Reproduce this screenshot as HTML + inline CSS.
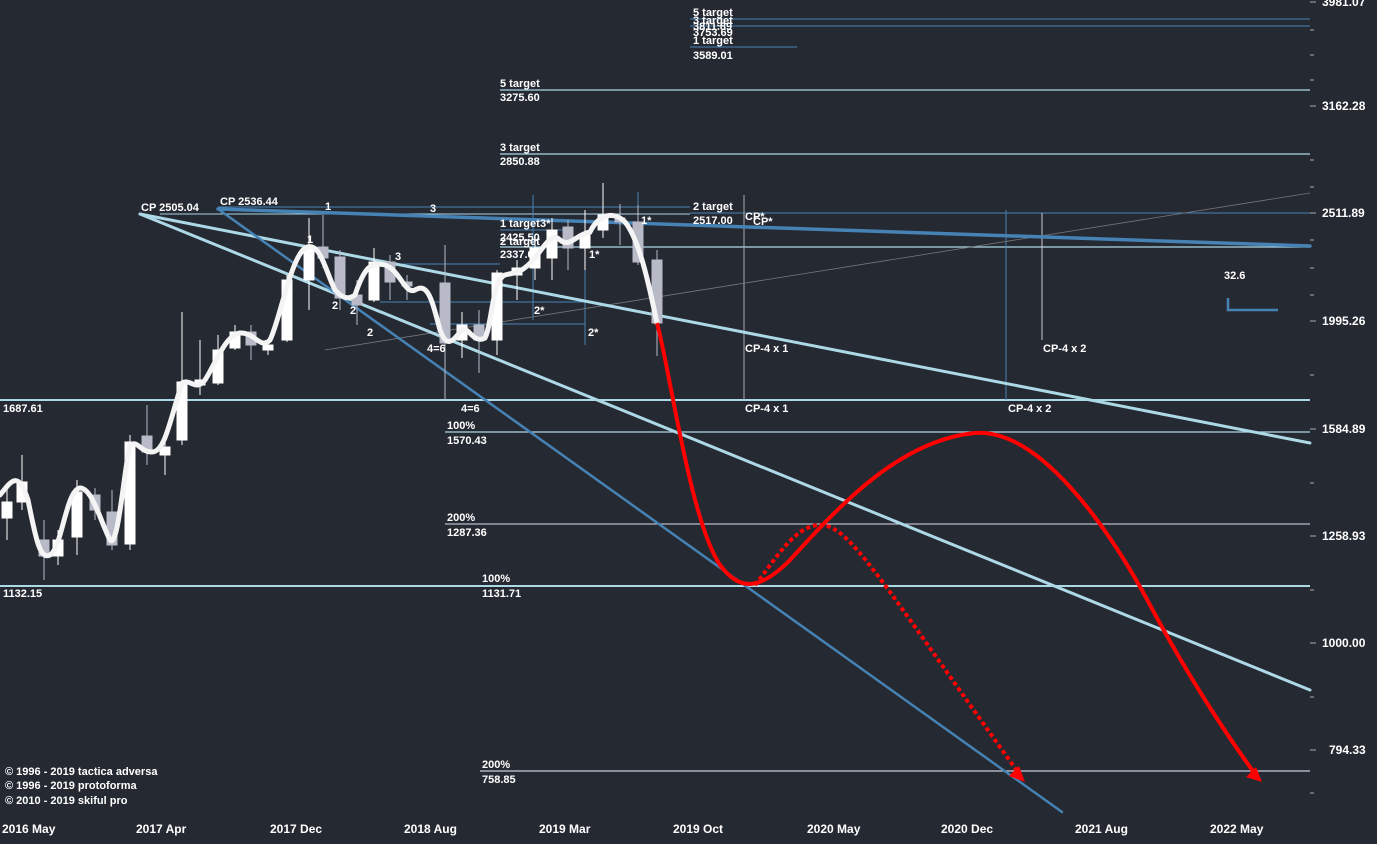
<!DOCTYPE html>
<html><head><style>
body{margin:0;background:#252932;}
svg{display:block;font-family:"Liberation Sans",sans-serif;font-size:11px;fill:#fff;}
text{fill:#fff;}
</style></head><body>
<svg width="1377" height="844" viewBox="0 0 1377 844">
<rect width="1377" height="844" fill="#252932"/>
<g stroke="#add8e6" stroke-width="1.3">
<line x1="0" y1="400" x2="1310" y2="400" stroke-width="2"/>
<line x1="0" y1="586" x2="1310" y2="586" stroke-width="2"/>
<line x1="445" y1="432" x2="1310" y2="432"/>
<line x1="480" y1="771" x2="1310" y2="771" stroke="#ccd"/>
<line x1="500" y1="90" x2="1310" y2="90"/>
<line x1="500" y1="154" x2="1310" y2="154"/>
<line x1="500" y1="247" x2="1310" y2="247"/>
</g>
<line x1="445" y1="524" x2="1310" y2="524" stroke="#dde" stroke-width="1"/>
<g stroke="#4682b4" stroke-width="1">
<line x1="690" y1="19" x2="1310" y2="19"/>
<line x1="690" y1="26" x2="1310" y2="26"/>
<line x1="690" y1="47" x2="797" y2="47"/>
<line x1="690" y1="213" x2="1310" y2="213"/>
<line x1="218" y1="207" x2="690" y2="207"/>
<line x1="500" y1="230" x2="570" y2="230"/>
<line x1="370" y1="264" x2="500" y2="264"/>
<line x1="380" y1="302" x2="590" y2="302"/>
<line x1="430" y1="324" x2="585" y2="324"/>
<line x1="160" y1="214" x2="690" y2="214" stroke="#add8e6"/>
<line x1="533" y1="195" x2="533" y2="320"/>
<line x1="638" y1="192" x2="638" y2="260"/>
<line x1="585" y1="240" x2="585" y2="345"/>
<line x1="1006" y1="210" x2="1006" y2="400"/>
</g>
<line x1="744" y1="195" x2="744" y2="400" stroke="#aaa"/>
<line x1="1042" y1="213" x2="1042" y2="340" stroke="#ccc"/>
<line x1="325" y1="350" x2="1310" y2="193" stroke="#777" stroke-width="0.8"/>
<g stroke-linecap="round">
<line x1="140" y1="214" x2="1310" y2="443" stroke="#add8e6" stroke-width="3"/>
<line x1="140" y1="214" x2="1310" y2="690" stroke="#add8e6" stroke-width="3"/>
<line x1="218" y1="209" x2="1310" y2="246" stroke="#4682b4" stroke-width="3.5"/>
<line x1="218" y1="209" x2="1062" y2="812" stroke="#4682b4" stroke-width="2.5"/>
</g>
<g stroke-width="1">
<g fill="#fff" stroke="#fff">
<line x1="7" y1="485" x2="7" y2="540"/><rect x="2" y="502" width="10" height="16"/>
<line x1="22" y1="455" x2="22" y2="510"/><rect x="17" y="482" width="10" height="20"/>
<line x1="58" y1="530" x2="58" y2="565"/><rect x="53" y="540" width="10" height="16"/>
<line x1="77" y1="480" x2="77" y2="555"/><rect x="72" y="492" width="10" height="45"/>
<line x1="130" y1="435" x2="130" y2="550"/><rect x="125" y="442" width="10" height="102"/>
<line x1="165" y1="440" x2="165" y2="475"/><rect x="160" y="447" width="10" height="8"/>
<line x1="182" y1="312" x2="182" y2="445"/><rect x="177" y="382" width="10" height="58"/>
<line x1="200" y1="340" x2="200" y2="395"/><rect x="195" y="380" width="10" height="5"/>
<line x1="218" y1="335" x2="218" y2="385"/><rect x="213" y="350" width="10" height="33"/>
<line x1="235" y1="325" x2="235" y2="350"/><rect x="230" y="332" width="10" height="16"/>
<line x1="268" y1="340" x2="268" y2="355"/><rect x="263" y="345" width="10" height="5"/>
<line x1="287" y1="275" x2="287" y2="342"/><rect x="282" y="280" width="10" height="60"/>
<line x1="309" y1="218" x2="309" y2="310"/><rect x="304" y="247" width="10" height="33"/>
<line x1="374" y1="248" x2="374" y2="302"/><rect x="369" y="262" width="10" height="38"/>
<line x1="462" y1="312" x2="462" y2="358"/><rect x="457" y="325" width="10" height="15"/>
<line x1="497" y1="270" x2="497" y2="355"/><rect x="492" y="273" width="10" height="67"/>
<line x1="517" y1="260" x2="517" y2="300"/><rect x="512" y="268" width="10" height="7"/>
<line x1="535" y1="240" x2="535" y2="280"/><rect x="530" y="248" width="10" height="20"/>
<line x1="552" y1="218" x2="552" y2="280"/><rect x="547" y="230" width="10" height="28"/>
<line x1="585" y1="210" x2="585" y2="270"/><rect x="580" y="235" width="10" height="13"/>
<line x1="603" y1="183" x2="603" y2="238"/><rect x="598" y="215" width="10" height="15"/>
</g>
<g fill="#b8bac8" stroke="#b8bac8">
<line x1="44" y1="520" x2="44" y2="580"/><rect x="39" y="540" width="10" height="16"/>
<line x1="95" y1="488" x2="95" y2="520"/><rect x="90" y="495" width="10" height="15"/>
<line x1="112" y1="490" x2="112" y2="550"/><rect x="107" y="512" width="10" height="33"/>
<line x1="147" y1="405" x2="147" y2="465"/><rect x="142" y="436" width="10" height="16"/>
<line x1="251" y1="325" x2="251" y2="360"/><rect x="246" y="332" width="10" height="13"/>
<line x1="323" y1="215" x2="323" y2="268"/><rect x="318" y="247" width="10" height="11"/>
<line x1="340" y1="250" x2="340" y2="310"/><rect x="335" y="257" width="10" height="41"/>
<line x1="357" y1="280" x2="357" y2="325"/><rect x="352" y="295" width="10" height="10"/>
<line x1="390" y1="255" x2="390" y2="300"/><rect x="385" y="262" width="10" height="20"/>
<line x1="407" y1="275" x2="407" y2="300"/><rect x="402" y="282" width="10" height="4"/>
<line x1="445" y1="245" x2="445" y2="400"/><rect x="440" y="283" width="10" height="60"/>
<line x1="479" y1="310" x2="479" y2="373"/><rect x="474" y="325" width="10" height="15"/>
<line x1="568" y1="220" x2="568" y2="270"/><rect x="563" y="227" width="10" height="21"/>
<line x1="620" y1="204" x2="620" y2="245"/><rect x="615" y="218" width="10" height="4"/>
<line x1="638" y1="205" x2="638" y2="265"/><rect x="633" y="222" width="10" height="40"/>
<line x1="657" y1="250" x2="657" y2="356"/><rect x="652" y="260" width="10" height="63"/>
</g>
</g>
<path d="M0,495 C12,480 18,470 28,500 C36,540 40,560 50,555 C62,548 66,490 80,488 C92,488 100,520 110,540 C118,550 124,470 130,445 C138,440 140,452 152,452 C165,452 170,420 182,383 C190,378 196,392 205,380 C215,365 225,335 240,333 C255,332 260,350 270,340 C280,320 290,260 305,248 C320,240 325,270 335,290 C342,298 348,300 355,295 C365,265 372,262 385,265 C400,270 405,295 415,290 C428,282 432,300 440,330 C446,345 450,345 460,332 C468,322 472,345 485,338 C492,325 492,280 505,275 C515,272 520,275 535,258 C545,245 552,232 560,240 C570,248 575,235 590,232 C600,212 615,212 625,222 C640,240 650,290 657,323" fill="none" stroke="#f4f4f4" stroke-width="5" stroke-linecap="round"/>
<path d="M657,323 C670,370 690,520 720,565 C740,592 760,590 790,560 C840,505 900,440 975,433 C1040,428 1110,530 1150,605 C1190,680 1230,740 1258,778" fill="none" stroke="#f00" stroke-width="4"/>
<path d="M1262,782 l-16,-5 l10,-10 z" fill="#f00"/>
<path d="M755,585 C775,560 795,525 820,525 C850,525 880,580 1020,775" fill="none" stroke="#f00" stroke-width="4" stroke-dasharray="4,3"/>
<path d="M1025,782 l-16,-6 l10,-10 z" fill="#f00"/>
<path d="M1228,298 v12 h50" fill="none" stroke="#4682b4" stroke-width="2.5"/>
<g font-size="11" font-weight="bold">
<text x="1224" y="279">32.6</text>
<text x="141" y="211">CP 2505.04</text>
<text x="220" y="205">CP 2536.44</text>
<text x="325" y="210">1</text><text x="430" y="212">3</text>
<text x="307" y="243">1</text><text x="395" y="260">3</text>
<text x="332" y="309">2</text><text x="350" y="314">2</text><text x="367" y="336">2</text>
<text x="427" y="352">4=6</text><text x="461" y="412">4=6</text>
<text x="534" y="314">2*</text><text x="588" y="336">2*</text><text x="589" y="258">1*</text>
<text x="641" y="224">1*</text><text x="540" y="227">3*</text>
<text x="500" y="227">1 target</text><text x="500" y="241">2425.50</text>
<text x="500" y="245">2 target</text><text x="500" y="258">2337.0</text>
<text x="500" y="87">5 target</text><text x="500" y="101">3275.60</text>
<text x="500" y="151">3 target</text><text x="500" y="165">2850.88</text>
<text x="693" y="210">2 target</text><text x="693" y="224">2517.00</text>
<text x="745" y="220">CP*</text><text x="753" y="225">CP*</text>
<text x="693" y="16">5 target</text><text x="693" y="24">3 target</text>
<text x="693" y="30">3811.89</text><text x="693" y="36">3753.69</text>
<text x="693" y="44">1 target</text><text x="693" y="59">3589.01</text>
<text x="745" y="352">CP-4 x 1</text><text x="745" y="412">CP-4 x 1</text>
<text x="1043" y="352">CP-4 x 2</text><text x="1008" y="412">CP-4 x 2</text>
<text x="3" y="412">1687.61</text><text x="3" y="597">1132.15</text>
<text x="447" y="429">100%</text><text x="447" y="444">1570.43</text>
<text x="447" y="521">200%</text><text x="447" y="536">1287.36</text>
<text x="482" y="582">100%</text><text x="482" y="597">1131.71</text>
<text x="482" y="768">200%</text><text x="482" y="783">758.85</text>
<text x="5" y="775">© 1996 - 2019 tactica adversa</text>
<text x="5" y="789">© 1996 - 2019 protoforma</text>
<text x="5" y="804">© 2010 - 2019 skiful pro</text>
</g>
<g stroke="#aaa">
<line x1="1310" y1="2" x2="1316" y2="2"/><line x1="1310" y1="106" x2="1316" y2="106"/><line x1="1310" y1="213" x2="1316" y2="213"/><line x1="1310" y1="321" x2="1316" y2="321"/><line x1="1310" y1="429" x2="1316" y2="429"/><line x1="1310" y1="536" x2="1316" y2="536"/><line x1="1310" y1="643" x2="1316" y2="643"/><line x1="1310" y1="750" x2="1316" y2="750"/>
<line x1="1310" y1="30" x2="1314" y2="30"/><line x1="1310" y1="55" x2="1314" y2="55"/><line x1="1310" y1="80" x2="1314" y2="80"/><line x1="1310" y1="160" x2="1314" y2="160"/><line x1="1310" y1="187" x2="1314" y2="187"/><line x1="1310" y1="240" x2="1314" y2="240"/><line x1="1310" y1="268" x2="1314" y2="268"/><line x1="1310" y1="295" x2="1314" y2="295"/><line x1="1310" y1="375" x2="1314" y2="375"/><line x1="1310" y1="483" x2="1314" y2="483"/><line x1="1310" y1="590" x2="1314" y2="590"/><line x1="1310" y1="697" x2="1314" y2="697"/><line x1="1310" y1="793" x2="1314" y2="793"/>
</g>
<g font-size="12" font-weight="bold">
<text x="1322" y="6">3981.07</text><text x="1322" y="110">3162.28</text><text x="1322" y="217">2511.89</text><text x="1322" y="325">1995.26</text><text x="1322" y="433">1584.89</text><text x="1322" y="540">1258.93</text><text x="1322" y="647">1000.00</text><text x="1329" y="754">794.33</text>
<text x="2" y="833">2016 May</text><text x="136" y="833">2017 Apr</text><text x="270" y="833">2017 Dec</text><text x="404" y="833">2018 Aug</text><text x="539" y="833">2019 Mar</text><text x="673" y="833">2019 Oct</text><text x="807" y="833">2020 May</text><text x="941" y="833">2020 Dec</text><text x="1075" y="833">2021 Aug</text><text x="1210" y="833">2022 May</text>
</g>
</svg>
</body></html>
